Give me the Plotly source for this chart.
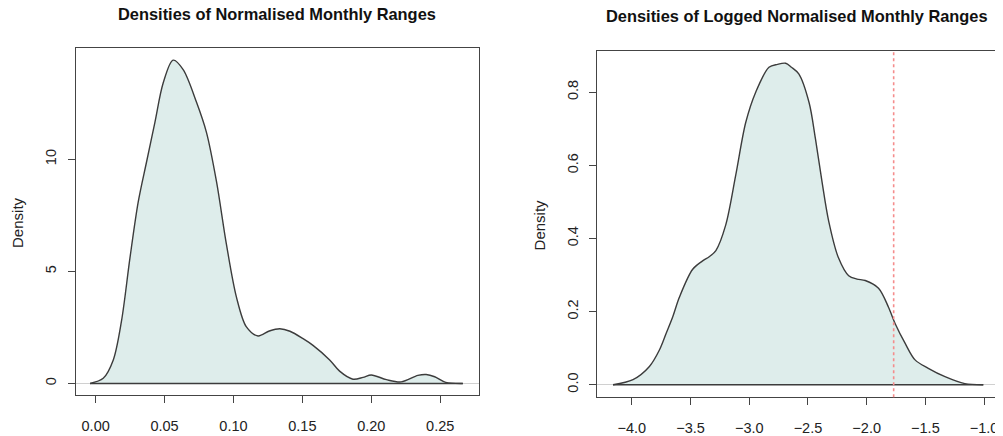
import plotly.graph_objects as go

# densities
x_raw = [-0.004, 0.0055, 0.0128, 0.0188, 0.0249, 0.0309, 0.037, 0.043, 0.049, 0.0562,
         0.0635, 0.0732, 0.0804, 0.0877, 0.0949, 0.1022, 0.1094, 0.1178, 0.126, 0.1336,
         0.141, 0.1505, 0.1577, 0.1698, 0.177, 0.1867, 0.194, 0.200, 0.211, 0.2217,
         0.2338, 0.2398, 0.2460, 0.254, 0.2664]
dens_raw = [0, 0.23, 1.05, 2.8, 5.6, 8.1, 9.9, 11.65, 13.4, 14.42,
            14.0, 12.54, 11.2, 9.0, 6.2, 3.84, 2.52, 2.12, 2.34, 2.44,
            2.33, 2.0, 1.7, 1.05, 0.55, 0.19, 0.27, 0.38, 0.17, 0.07,
            0.36, 0.40, 0.30, 0.05, 0]

x_log = [-4.16, -3.99, -3.85, -3.765, -3.708, -3.652, -3.595, -3.483, -3.40, -3.341,
         -3.284, -3.2, -3.115, -3.03, -2.945, -2.832, -2.76, -2.69, -2.64, -2.578,
         -2.49, -2.436, -2.38, -2.323, -2.24, -2.153, -2.083, -2.012, -1.899, -1.814,
         -1.757, -1.672, -1.588, -1.475, -1.333, -1.164, -1.007]
dens_log = [0, 0.014, 0.05, 0.095, 0.14, 0.185, 0.239, 0.315, 0.338, 0.35,
            0.367, 0.437, 0.573, 0.717, 0.80, 0.868, 0.876, 0.879, 0.868, 0.850,
            0.771, 0.672, 0.555, 0.447, 0.347, 0.298, 0.289, 0.285, 0.264, 0.212,
            0.167, 0.113, 0.068, 0.045, 0.022, 0.003, 0]

cutoff = -1.77

raw_ticks = [0, 0.05, 0.10, 0.15, 0.20, 0.25]
raw_yticks = [0, 5, 10]
log_ticks = [-4.0, -3.5, -3.0, -2.5, -2.0, -1.5, -1.0]
log_yticks = [0.0, 0.2, 0.4, 0.6, 0.8]

FONT = "Liberation Sans, Arial, sans-serif"
FILL = "#deedeb"
EDGE = "#3c3c3c"

fig = go.Figure()

def add_density(xs, ys, xa, ya):
    fig.add_trace(go.Scatter(
        x=xs, y=ys, fill="tozeroy", fillcolor=FILL, mode="lines",
        line=dict(color=EDGE, width=1.4, shape="spline", smoothing=0.9),
        xaxis=xa, yaxis=ya, hoverinfo="skip", showlegend=False))
    # bottom edge of the polygon
    fig.add_trace(go.Scatter(
        x=[xs[0], xs[-1]], y=[ys[0], ys[-1]], mode="lines",
        line=dict(color=EDGE, width=1.4),
        xaxis=xa, yaxis=ya, hoverinfo="skip", showlegend=False))

add_density(x_raw, dens_raw, "x", "y")
add_density(x_log, dens_log, "x2", "y2")

# the page body adds an 8px margin, so shift everything back by it
OFF = 8
W, H = 1003 - OFF, 436 - OFF

def px_x(v):
    return (v - OFF) / W

def px_y(v):
    return 1 - (v - OFF) / H

def dom_x(a, b):
    return [px_x(a), px_x(b)]

def dom_y(top, bottom):
    return [px_y(bottom), px_y(top)]

axis_common = dict(
    showgrid=False, ticks="outside", ticklen=7, tickwidth=1, tickcolor="#444",
    showline=True, mirror=True, linecolor="#444", linewidth=1,
    tickfont=dict(family=FONT, size=14.5, color="#222"),
)

fig.update_layout(
    width=W, height=H,
    margin=dict(l=0, r=0, t=0, b=0),
    paper_bgcolor="white", plot_bgcolor="white",
    font=dict(family=FONT, color="#222"),
    xaxis=dict(domain=dom_x(76, 479), range=[-0.0143, 0.2778], anchor="y",
               tickvals=raw_ticks, tickformat=".2f", zeroline=False,
               ticklabelstandoff=10, **axis_common),
    yaxis=dict(domain=dom_y(48, 399), range=[-0.53, 14.98], anchor="x",
               tickvals=raw_yticks, tickangle=-90, zeroline=True,
               zerolinecolor="#d0d0d0", zerolinewidth=1,
               ticklabelstandoff=6, **axis_common),
    xaxis2=dict(domain=dom_x(598, 998), range=[-4.293, -0.89], anchor="y2",
                tickvals=log_ticks, tickformat=".1f", zeroline=False,
                ticklabelstandoff=10, **axis_common),
    yaxis2=dict(domain=dom_y(51, 401), range=[-0.0344, 0.9137], anchor="x2",
                tickvals=log_yticks, tickformat=".1f", tickangle=-90, zeroline=True,
                zerolinecolor="#d0d0d0", zerolinewidth=1,
                ticklabelstandoff=6, **axis_common),
    shapes=[dict(type="line", xref="x2", yref="y2 domain", x0=cutoff, x1=cutoff,
                 y0=0, y1=1, line=dict(color="#f58c8c", width=1.6, dash="3px,3px"))],
    annotations=[
        dict(text="<b>Densities of Normalised Monthly Ranges</b>", xref="paper", yref="paper",
             x=px_x(277), y=px_y(14), xanchor="center", yanchor="middle",
             showarrow=False, font=dict(size=16.4, color="#111")),
        dict(text="<b>Densities of Logged Normalised Monthly Ranges</b>", xref="paper", yref="paper",
             x=px_x(798), y=px_y(16), xanchor="center", yanchor="middle",
             showarrow=False, font=dict(size=16.4, color="#111")),
        dict(text="Density", xref="paper", yref="paper", x=px_x(18), y=px_y(224),
             xanchor="center", yanchor="middle",
             textangle=-90, showarrow=False, font=dict(size=15, color="#222")),
        dict(text="Density", xref="paper", yref="paper", x=px_x(540), y=px_y(227),
             xanchor="center", yanchor="middle",
             textangle=-90, showarrow=False, font=dict(size=15, color="#222")),
    ],
)

fig.write_html("out.html")
